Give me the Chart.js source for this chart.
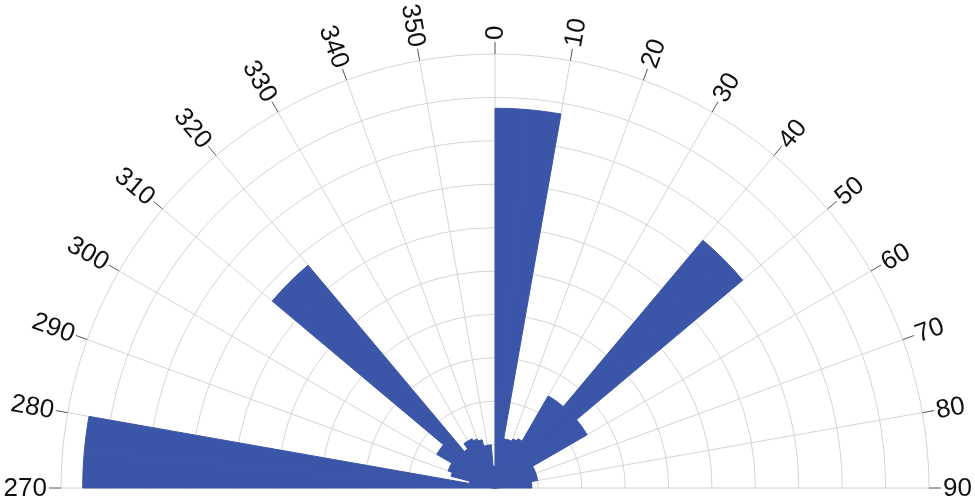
<!DOCTYPE html>
<html>
<head>
<meta charset="utf-8">
<script src="https://cdn.jsdelivr.net/npm/chart.js@4.4.0/dist/chart.umd.min.js"></script>
<style>
  html, body { margin: 0; padding: 0; background: #fff; }
  #wrap { width: 975px; height: 503px; overflow: hidden; }
  #rose { display: block; }
</style>
</head>
<body>
<div id="wrap"><canvas id="rose" width="975" height="976"></canvas></div>
<script>
// 5 degree bins, clockwise from north
const binWidth = 5;
const bins = [];
for (let a = 0; a < 360; a += binWidth) bins.push(a + '-' + (a + binWidth));

// bar length of each bin, in grid rings (outer ring = 10)
const lengths = [
  8.75, 8.75, 1.15, 1.15, 1.2, 1.25, 2.45, 2.45, 7.45, 7.45, 2.45, 2.45, // 0-60
  1.0, 1.0, 1.0, 1.0, 0.85, 0.85,                                       // 60-90
  0, 0, 0, 0, 0, 0, 0, 0, 0, 0, 0, 0,                                   // 90-150
  0, 0, 0, 0, 0, 0, 0, 0, 0, 0, 0, 0,                                   // 150-210
  0, 0, 0, 0, 0, 0, 0, 0, 0, 0, 0, 0,                                   // 210-270
  9.5, 9.5, 0.6, 1.05, 1.15, 1.15, 1.55, 1.55, 6.7, 6.7, 1.1, 1.25,     // 270-330
  1.25, 1.2, 1.15, 1.0, 1.0, 0.5                                        // 330-360
];

// direction labels round the half circle
const directionLabels = [270, 280, 290, 300, 310, 320, 330, 340, 350, 0, 10, 20, 30, 40, 50, 60, 70, 80, 90];

const gridColor = '#d4d4d4';
const barColor = '#3b56a8';

function shownAngle(deg) {
  return deg % 10 === 0 && (deg <= 90 || deg >= 270);
}

const compassLabels = {
  id: 'compassLabels',
  beforeDraw(chart) {
    // only the upper half of the rose is shown
    const r = chart.scales.r;
    const ctx = chart.ctx;
    ctx.save();
    ctx.beginPath();
    ctx.rect(0, 0, chart.width, r.yCenter + 1);
    ctx.clip();
  },
  afterDraw(chart) {
    const ctx = chart.ctx;
    ctx.restore();
    const r = chart.scales.r;
    const outer = r.drawingArea;
    ctx.save();
    ctx.strokeStyle = '#555';
    ctx.lineWidth = 1;
    ctx.fillStyle = '#111';
    ctx.font = '26px "Liberation Sans", Arial, sans-serif';
    ctx.textBaseline = 'middle';
    directionLabels.forEach(deg => {
      const idx = deg / binWidth;
      const a = r.getPointPosition(idx, outer);
      const b = r.getPointPosition(idx, outer + 12);
      ctx.beginPath();
      ctx.moveTo(a.x, a.y);
      ctx.lineTo(b.x, b.y);
      ctx.stroke();

      const p = r.getPointPosition(idx, outer + 14);
      const right = deg <= 90;
      ctx.save();
      ctx.translate(p.x, p.y);
      ctx.rotate(((right ? deg - 90 : deg - 270) * Math.PI) / 180);
      ctx.textAlign = right ? 'left' : 'right';
      ctx.fillText(String(deg), 0, 1);
      ctx.restore();
    });
    ctx.restore();
  }
};

new Chart(document.getElementById('rose'), {
  type: 'polarArea',
  data: {
    labels: bins,
    datasets: [{
      data: lengths,
      backgroundColor: barColor,
      borderColor: barColor,
      borderWidth: 1
    }]
  },
  options: {
    responsive: false,
    animation: false,
    devicePixelRatio: 1,
    layout: { padding: { left: 61, right: 46, top: 54, bottom: 54 } },
    plugins: {
      legend: { display: false },
      tooltip: { enabled: false }
    },
    scales: {
      r: {
        min: 0,
        max: 10,
        startAngle: 0,
        ticks: { display: false, stepSize: 1 },
        grid: { color: gridColor, lineWidth: 1 },
        angleLines: {
          display: true,
          color: gridColor,
          lineWidth: c => (shownAngle(c.index * binWidth) ? 1 : 0)
        },
        pointLabels: { display: false }
      }
    }
  },
  plugins: [compassLabels]
});
</script>
</body>
</html>
